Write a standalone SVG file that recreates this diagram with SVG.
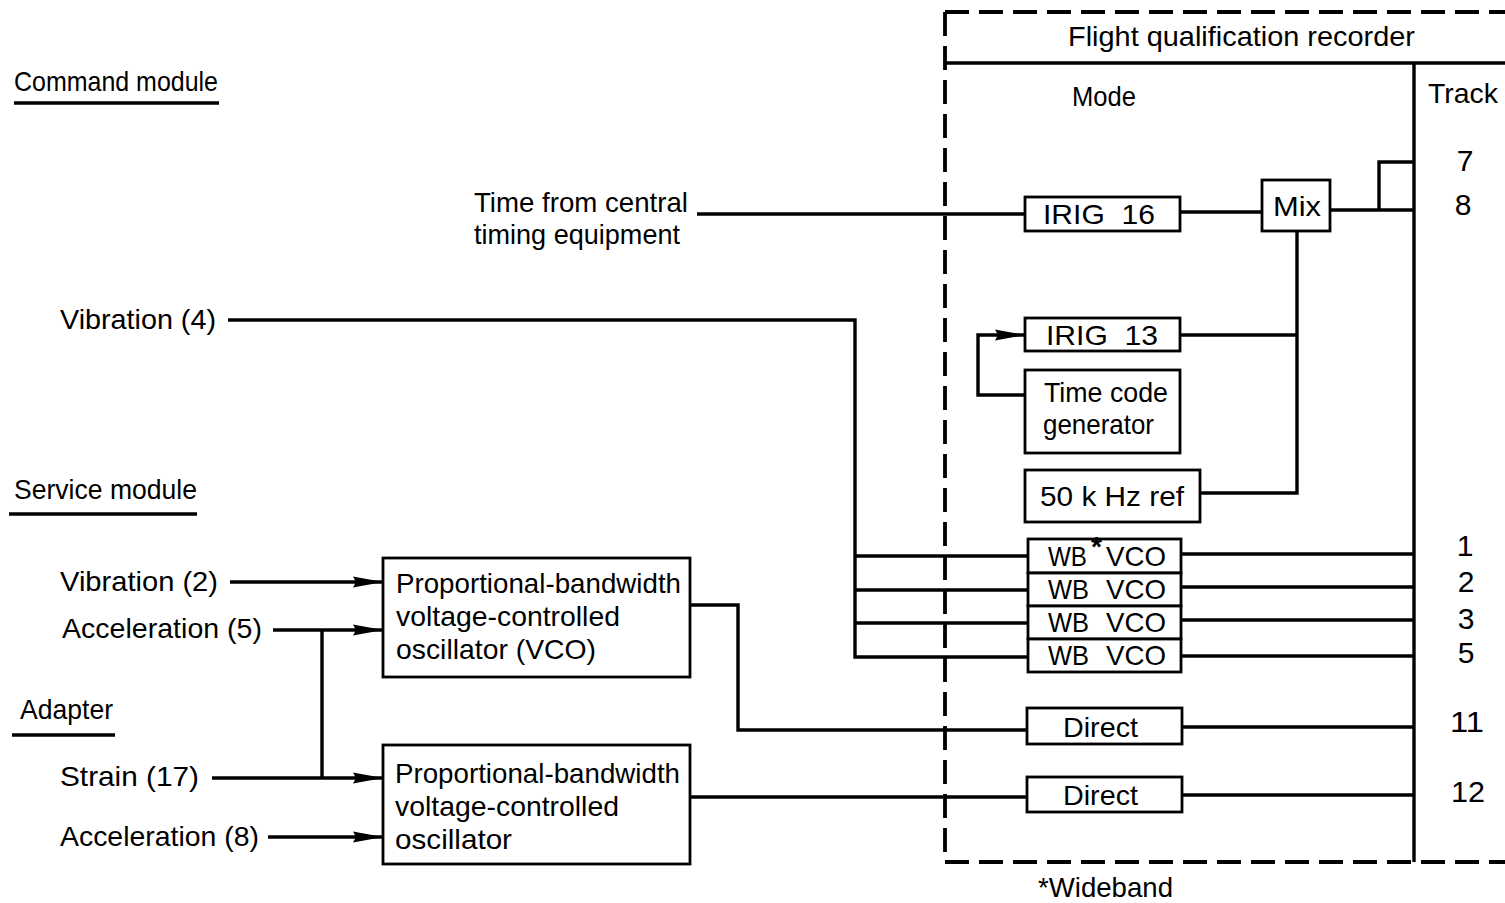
<svg xmlns="http://www.w3.org/2000/svg" width="1505" height="903" viewBox="0 0 1505 903">
<style>
text{font-family:"Liberation Sans",Arial,sans-serif;font-size:28px;fill:#000;white-space:pre;}
.box{fill:#fff;stroke:#000;stroke-width:2.8;}
.ln{fill:none;stroke:#000;stroke-width:3.4;}
.dash{fill:none;stroke:#000;stroke-width:3.8;stroke-dasharray:24 10;}
.c{text-anchor:middle;}
.num{font-size:30px;}
</style>
<defs>
<marker id="arr" markerUnits="userSpaceOnUse" markerWidth="30" markerHeight="12" refX="30" refY="6" orient="auto">
<path d="M0,0.5 L30,6 L0,11.5 L3,6 z" fill="#000"/>
</marker>
</defs>

<!-- recorder frame -->
<g id="recorder">
<path class="dash" d="M945,12 H1505"/>
<path class="dash" d="M945,862 H1505"/>
<path class="dash" d="M945,12 V862"/>
<path class="ln" d="M945,63 H1505"/>
<path class="ln" d="M1414,63 V862"/>
<text x="1068" y="46" textLength="347" lengthAdjust="spacingAndGlyphs">Flight qualification recorder</text>
<text x="1072" y="106" textLength="64" lengthAdjust="spacingAndGlyphs">Mode</text>
<text x="1428" y="103" textLength="70" lengthAdjust="spacingAndGlyphs">Track</text>
</g>

<!-- section labels -->
<g id="labels">
<text x="14" y="91" textLength="204" lengthAdjust="spacingAndGlyphs">Command module</text>
<path class="ln" d="M14,103 H219"/>
<text x="14" y="499" textLength="183" lengthAdjust="spacingAndGlyphs">Service module</text>
<path class="ln" d="M9,514 H197"/>
<text x="20" y="719" textLength="93" lengthAdjust="spacingAndGlyphs">Adapter</text>
<path class="ln" d="M12,735 H115"/>
<text x="474" y="212" textLength="214" lengthAdjust="spacingAndGlyphs">Time from central</text>
<text x="474" y="244" textLength="206" lengthAdjust="spacingAndGlyphs">timing equipment</text>
<text x="60" y="329" textLength="156" lengthAdjust="spacingAndGlyphs">Vibration (4)</text>
<text x="60" y="591" textLength="158" lengthAdjust="spacingAndGlyphs">Vibration (2)</text>
<text x="62" y="638" textLength="200" lengthAdjust="spacingAndGlyphs">Acceleration (5)</text>
<text x="60" y="786" textLength="139" lengthAdjust="spacingAndGlyphs">Strain (17)</text>
<text x="60" y="846" textLength="199" lengthAdjust="spacingAndGlyphs">Acceleration (8)</text>
<text x="1038" y="897" textLength="135" lengthAdjust="spacingAndGlyphs">*Wideband</text>
</g>

<!-- track numbers -->
<g id="tracks">
<text class="c num" x="1465" y="171">7</text>
<text class="c num" x="1463" y="215">8</text>
<text class="c num" x="1465" y="556">1</text>
<text class="c num" x="1466" y="592">2</text>
<text class="c num" x="1466" y="629">3</text>
<text class="c num" x="1466" y="663">5</text>
<text class="c num" x="1467" y="732" textLength="34" lengthAdjust="spacingAndGlyphs">11</text>
<text class="c num" x="1468" y="802" textLength="34" lengthAdjust="spacingAndGlyphs">12</text>
</g>

<!-- connectors -->
<g id="connectors">
<path class="ln" d="M697,214 H1025"/>
<path class="ln" d="M1180,212 H1262"/>
<path class="ln" d="M1330,210 H1414"/>
<path class="ln" d="M1379,210 V162 H1414"/>
<path class="ln" d="M1297,231 V493 H1200"/>
<path class="ln" d="M1180,335 H1297"/>
<path class="ln" d="M1025,395 H978 V335 H1025" marker-end="url(#arr)"/>
<path class="ln" d="M228,320 H855 V657 H1028"/>
<path class="ln" d="M855,556 H1028"/>
<path class="ln" d="M855,590 H1028"/>
<path class="ln" d="M855,623 H1028"/>
<path class="ln" d="M1181,554 H1414"/>
<path class="ln" d="M1181,587 H1414"/>
<path class="ln" d="M1181,620 H1414"/>
<path class="ln" d="M1181,656 H1414"/>
<path class="ln" d="M690,605 H738 V730 H1027"/>
<path class="ln" d="M1182,727 H1414"/>
<path class="ln" d="M690,797 H1027"/>
<path class="ln" d="M1182,795 H1414"/>
<path class="ln" d="M230,582 H383" marker-end="url(#arr)"/>
<path class="ln" d="M273,630 H383" marker-end="url(#arr)"/>
<path class="ln" d="M322,630 V778"/>
<path class="ln" d="M212,778 H383" marker-end="url(#arr)"/>
<path class="ln" d="M268,837 H383" marker-end="url(#arr)"/>
</g>

<!-- nodes -->
<g id="irig16"><rect class="box" x="1025" y="197" width="155" height="34"/><text x="1043" y="224" textLength="112" lengthAdjust="spacingAndGlyphs">IRIG  16</text></g>
<g id="mix"><rect class="box" x="1262" y="180" width="68" height="51"/><text x="1273" y="216" textLength="48" lengthAdjust="spacingAndGlyphs">Mix</text></g>
<g id="irig13"><rect class="box" x="1025" y="318" width="155" height="33"/><text x="1046" y="345" textLength="112" lengthAdjust="spacingAndGlyphs">IRIG  13</text></g>
<g id="timecode"><rect class="box" x="1025" y="370" width="155" height="83"/><text x="1044" y="402" textLength="124" lengthAdjust="spacingAndGlyphs">Time code</text><text x="1043" y="434" textLength="111" lengthAdjust="spacingAndGlyphs">generator</text></g>
<g id="ref50k"><rect class="box" x="1025" y="470" width="175" height="52"/><text x="1040" y="506" textLength="144" lengthAdjust="spacingAndGlyphs">50 k Hz ref</text></g>
<g id="wbvco1"><rect class="box" x="1028" y="539" width="153" height="34"/><text x="1048" y="566" textLength="39" lengthAdjust="spacingAndGlyphs">WB</text><text x="1091" y="556" font-size="16" font-weight="bold">*</text><text x="1106" y="566" textLength="60" lengthAdjust="spacingAndGlyphs">VCO</text></g>
<g id="wbvco2"><rect class="box" x="1028" y="573" width="153" height="33"/><text x="1048" y="599" textLength="41" lengthAdjust="spacingAndGlyphs">WB</text><text x="1106" y="599" textLength="60" lengthAdjust="spacingAndGlyphs">VCO</text></g>
<g id="wbvco3"><rect class="box" x="1028" y="606" width="153" height="33"/><text x="1048" y="632" textLength="41" lengthAdjust="spacingAndGlyphs">WB</text><text x="1106" y="632" textLength="60" lengthAdjust="spacingAndGlyphs">VCO</text></g>
<g id="wbvco5"><rect class="box" x="1028" y="639" width="153" height="33"/><text x="1048" y="665" textLength="41" lengthAdjust="spacingAndGlyphs">WB</text><text x="1106" y="665" textLength="60" lengthAdjust="spacingAndGlyphs">VCO</text></g>
<g id="direct11"><rect class="box" x="1027" y="708" width="155" height="36"/><text x="1063" y="737" textLength="75" lengthAdjust="spacingAndGlyphs">Direct</text></g>
<g id="direct12"><rect class="box" x="1027" y="777" width="155" height="35"/><text x="1063" y="805" textLength="75" lengthAdjust="spacingAndGlyphs">Direct</text></g>
<g id="vco1"><rect class="box" x="383" y="558" width="307" height="119"/>
<text x="396" y="593" textLength="285" lengthAdjust="spacingAndGlyphs">Proportional-bandwidth</text>
<text x="396" y="626" textLength="224" lengthAdjust="spacingAndGlyphs">voltage-controlled</text>
<text x="396" y="659" textLength="200" lengthAdjust="spacingAndGlyphs">oscillator (VCO)</text></g>
<g id="vco2"><rect class="box" x="383" y="745" width="307" height="119"/>
<text x="395" y="783" textLength="285" lengthAdjust="spacingAndGlyphs">Proportional-bandwidth</text>
<text x="395" y="816" textLength="224" lengthAdjust="spacingAndGlyphs">voltage-controlled</text>
<text x="395" y="849" textLength="117" lengthAdjust="spacingAndGlyphs">oscillator</text></g>
</svg>
